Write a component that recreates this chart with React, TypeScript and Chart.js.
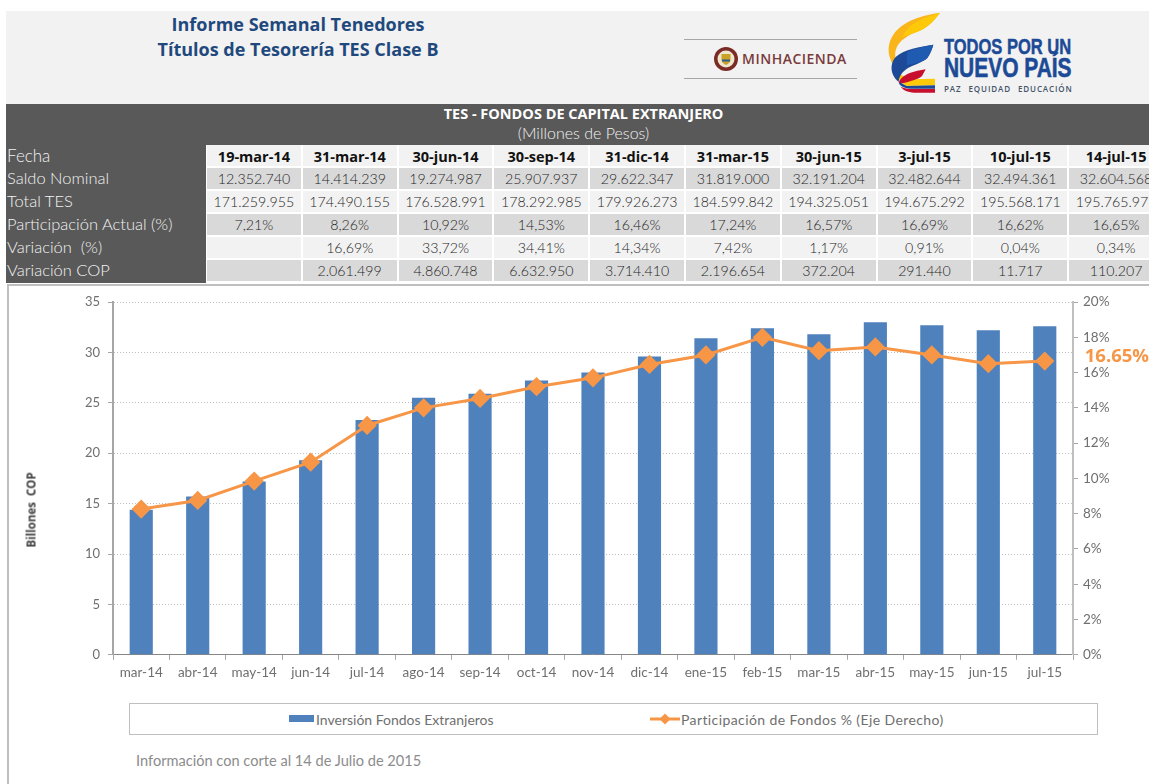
import React, { useEffect, useRef } from "react";
import { Chart, registerables } from "chart.js";

Chart.register(...registerables);

const months = ["mar-14","abr-14","may-14","jun-14","jul-14","ago-14","sep-14","oct-14","nov-14","dic-14","ene-15","feb-15","mar-15","abr-15","may-15","jun-15","jul-15"];
const inversion = [14.4,15.7,17.2,19.3,23.3,25.5,25.9,27.2,28.0,29.6,31.4,32.4,31.8,33.0,32.7,32.2,32.6];
const participacion = [8.26,8.75,9.85,10.92,13.0,14.0,14.53,15.2,15.7,16.46,17.0,18.0,17.24,17.45,17.0,16.5,16.65];
const serieBarras = "Inversión Fondos Extranjeros";
const serieLinea = "Participación de Fondos % (Eje Derecho)";

const fechas = ["19-mar-14","31-mar-14","30-jun-14","30-sep-14","31-dic-14","31-mar-15","30-jun-15","3-jul-15","10-jul-15","14-jul-15"];
const saldoNominal = ["12.352.740","14.414.239","19.274.987","25.907.937","29.622.347","31.819.000","32.191.204","32.482.644","32.494.361","32.604.568"];
const totalTes = ["171.259.955","174.490.155","176.528.991","178.292.985","179.926.273","184.599.842","194.325.051","194.675.292","195.568.171","195.765.971"];
const participacionActual = ["7,21%","8,26%","10,92%","14,53%","16,46%","17,24%","16,57%","16,69%","16,62%","16,65%"];
const variacionPct = ["","16,69%","33,72%","34,41%","14,34%","7,42%","1,17%","0,91%","0,04%","0,34%"];
const variacionCop = ["","2.061.499","4.860.748","6.632.950","3.714.410","2.196.654","372.204","291.440","11.717","110.207"];

const FONT = "Lato, 'Open Sans', sans-serif";
const HEAD = "'Open Sans', sans-serif";
const AXIS = "#6f6f6f";
const rows: [string, string[], string][] = [
  ["Saldo Nominal", saldoNominal, "#d9d9d9"],
  ["Total TES", totalTes, "#f2f2f2"],
  ["Participación Actual (%)", participacionActual, "#d9d9d9"],
  ["Variación  (%)", variacionPct, "#f2f2f2"],
  ["Variación COP", variacionCop, "#d9d9d9"],
];

function abs(l: number, t: number, w: number, h: number, extra: React.CSSProperties = {}): React.CSSProperties {
  return { position: "absolute", left: l, top: t, width: w, height: h, ...extra };
}
const COL0 = 207, COLW = 95.8, ROW0 = 145, ROWH = 23;
const NARROW = "'Liberation Sans', sans-serif";

const lastLabel = {
  id: "lastLabel",
  afterDatasetsDraw(chart: any) {
    const { ctx, scales } = chart;
    const v = participacion[participacion.length - 1];
    ctx.save();
    ctx.font = `bold 18.5px ${HEAD}`;
    ctx.fillStyle = "#f79646";
    ctx.textAlign = "right";
    ctx.textBaseline = "middle";
    ctx.fillText(v.toFixed(2) + "%", chart.width, scales.y1.getPixelForValue(v) - 4);
    ctx.restore();
  },
};

export default function App() {
  const ref = useRef<HTMLCanvasElement>(null);
  useEffect(() => {
    document.body.style.margin = "0";
    const chart = new Chart(ref.current!, {
      type: "bar",
      data: {
        labels: months,
        datasets: [
          { type: "line", label: serieLinea, data: participacion, yAxisID: "y1", borderColor: "#f79646", backgroundColor: "#f79646", borderWidth: 3, pointStyle: "rectRot", pointRadius: 7.5, pointHoverRadius: 7.5, tension: 0, order: 1 },
          { type: "bar", label: serieBarras, data: inversion, yAxisID: "y", backgroundColor: "#4f81bd", borderWidth: 0, barPercentage: 0.82, categoryPercentage: 0.5, order: 2 },
        ] as any,
      },
      options: {
        responsive: false,
        animation: false,
        layout: { padding: { left: 0, right: 0, top: 16, bottom: 10 } },
        plugins: { tooltip: { enabled: false }, legend: { display: false } },
        scales: {
          x: {
            offset: true,
            grid: { display: true, drawOnChartArea: false, drawTicks: true, tickLength: 5, color: "#a6a6a6", offset: true },
            border: { color: "#868686", width: 1 },
            ticks: { color: AXIS, font: { family: FONT, size: 13.5 }, maxRotation: 0, autoSkip: false, padding: 5 },
          },
          y: {
            position: "left", min: 0, max: 35,
            afterFit: (s: any) => { s.width = 105; },
            grid: { color: "#bdbdbd", lineWidth: 1, tickLength: 5, tickColor: "#a6a6a6" },
            border: { color: "#a6a6a6", width: 2, dash: [1, 2] },
            ticks: { stepSize: 5, color: AXIS, font: { family: FONT, size: 13 }, padding: 8 },
          } as any,
          y1: {
            position: "right", min: 0, max: 20,
            afterFit: (s: any) => { s.width = 76; },
            grid: { drawOnChartArea: false, tickLength: 5, color: "#a6a6a6" },
            border: { color: "#bfbfbf", width: 2 },
            ticks: { stepSize: 2, color: AXIS, font: { family: FONT, size: 13.5 }, padding: 5, callback: (v: any) => v + "%" },
          },
        },
      },
      plugins: [lastLabel],
    } as any);
    return () => chart.destroy();
  }, []);

  return (
    <div style={{ position: "relative", width: 1149, height: 784, overflow: "hidden", background: "#fff", fontFamily: FONT }}>
      {/* banner */}
      <div style={abs(6, 11, 1143, 93, { background: "#f2f2f2" })} />
      <div style={abs(6, 12, 584, 50, { textAlign: "center", color: "#1f497d", fontFamily: HEAD, fontWeight: 700, fontSize: 18, lineHeight: "25px", whiteSpace: "nowrap" })}>
        Informe Semanal Tenedores<br />Títulos de Tesorería TES Clase B
      </div>
      {/* Minhacienda */}
      <div style={abs(684, 39, 173, 1, { background: "#a6a6a6" })} />
      <div style={abs(684, 78, 173, 1, { background: "#a6a6a6" })} />
      <svg style={abs(713, 46, 26, 26)} viewBox="0 0 26 26">
        <circle cx="13" cy="13" r="12" fill="#7b2b26" />
        <circle cx="13" cy="13" r="8.5" fill="#efe6d0" />
        <path d="M8.5 8h9v5.5c0 3-2.5 4.5-4.5 5.5-2-1-4.5-2.5-4.5-5.5z" fill="#c9a227" />
        <path d="M9 13.5h8v2h-8z" fill="#2f5f8f" />
      </svg>
      <div style={abs(742, 46, 116, 26, { color: "#7a3b3b", fontFamily: HEAD, fontWeight: 600, fontSize: 14, lineHeight: "26px", letterSpacing: 0.5, whiteSpace: "nowrap" })}>MINHACIENDA</div>
      {/* Todos por un nuevo pais */}
      <svg style={abs(880, 8, 70, 92)} viewBox="0 0 210 276">
        <path d="M180 14C130 22 70 36 40 80 24 104 22 130 32 155 36 166 42 176 48 184 L60 196 L46 148 C42 118 60 94 100 76 140 62 158 44 180 14Z" fill="#f9b51a" />
        <path d="M180 14C150 24 110 36 88 56 80 64 72 76 66 88 L100 76C140 62 158 44 180 14Z" fill="#fdc908" />
        <path d="M48 184C58 200 76 212 100 214L165 212L165 232L80 234C62 226 50 208 44 190Z" fill="#fdc908" />
        <path d="M160 110C120 116 72 124 48 146 34 160 32 180 38 198 42 208 48 216 56 222 58 204 66 192 84 180 104 170 130 162 142 150 150 138 156 124 160 110Z" fill="#1c4a96" />
        <path d="M160 110C130 116 100 122 82 132 L80 172 C104 166 130 162 142 150 150 138 156 124 160 110Z" fill="#1f5bb0" />
        <path d="M137 184C115 188 92 192 76 202 66 208 58 216 56 224 66 228 78 224 90 220 108 214 120 210 126 204 130 198 134 190 137 184Z" fill="#c8102e" />
        <path d="M56 224C62 236 76 242 100 242L165 242L165 232L80 234 62 224Z" fill="#1c4a96" />
        <path d="M62 236C72 250 90 254 110 254L165 254L165 243L100 243C84 243 72 240 62 236Z" fill="#c8102e" />
      </svg>
      <div style={abs(944, 34, 165, 26, { color: "#1c4a96", fontFamily: NARROW, fontWeight: 700, fontSize: 22, lineHeight: "26px", whiteSpace: "nowrap", transform: "scaleX(0.75)", transformOrigin: "left center", WebkitTextStroke: "0.5px #1c4a96" })}>TODOS POR UN</div>
      <div style={abs(944, 53, 165, 30, { color: "#1c4a96", fontFamily: NARROW, fontWeight: 700, fontSize: 27, lineHeight: "30px", whiteSpace: "nowrap", transform: "scaleX(0.775)", transformOrigin: "left center", WebkitTextStroke: "0.6px #1c4a96" })}>NUEVO PAÍS</div>
      <div style={abs(944, 83, 130, 12, { color: "#44546a", fontFamily: HEAD, fontWeight: 600, fontSize: 8, lineHeight: "12px", whiteSpace: "nowrap", letterSpacing: 0.9, wordSpacing: 4 })}>PAZ EQUIDAD EDUCACIÓN</div>

      {/* table */}
      <div style={abs(6, 104, 200, 179, { background: "#595959" })} />
      <div style={abs(6, 104, 1155, 41, { background: "#595959", color: "#fff", textAlign: "center" })}>
        <div style={{ fontFamily: HEAD, fontWeight: 700, fontSize: 14.5, lineHeight: "20px" }}>TES - FONDOS DE CAPITAL EXTRANJERO</div>
        <div style={{ fontSize: 16, fontWeight: 300, lineHeight: "18px", color: "#f2f2f2" }}>(Millones de Pesos)</div>
      </div>
      <div style={abs(7, ROW0, 198, ROWH, { color: "#f2f2f2", fontSize: 17, fontWeight: 300, lineHeight: `${ROWH - 2}px` })}>Fecha</div>
      {rows.map(([label], i) => (
        <div key={label} style={abs(7, ROW0 + ROWH * (i + 1), 198, ROWH, { color: "#f2f2f2", fontSize: 16.5, fontWeight: 300, lineHeight: `${ROWH - 2}px`, whiteSpace: "pre" })}>{label}</div>
      ))}
      {fechas.map((f, c) => (
        <div key={f} style={abs(COL0 + COLW * c, ROW0, COLW - 2, ROWH - 2, { background: "#f2f2f2", color: "#111", fontFamily: HEAD, fontWeight: 700, fontSize: 14.5, lineHeight: "24px", textAlign: "center", whiteSpace: "nowrap" })}>{f}</div>
      ))}
      {rows.map(([label, vals, bg], i) =>
        vals.map((v, c) => (
          <div key={label + c} style={abs(COL0 + COLW * c, ROW0 + ROWH * (i + 1), COLW - 2, ROWH - 2, { background: bg, color: "#1f1f1f", fontSize: 14.2, fontWeight: 300, lineHeight: "21px", textAlign: "center", whiteSpace: "nowrap", overflow: "visible" })}>{v}</div>
        ))
      )}

      {/* chart frame */}
      <div style={abs(7, 284, 1150, 510, { border: "2px solid #bfbfbf", boxSizing: "border-box" })} />
      <canvas ref={ref} width={1141} height={410} style={{ position: "absolute", left: 8, top: 286, width: 1141, height: 410 }} />
      <div style={{ position: "absolute", left: 31, top: 510, transform: "translate(-50%,-50%) rotate(-90deg)", fontFamily: HEAD, fontWeight: 700, fontSize: 11.5, color: "#404040", whiteSpace: "pre" }}>Billones  COP</div>

      {/* legend */}
      <div style={abs(129, 703, 969, 32, { border: "1px solid #bfbfbf", boxSizing: "border-box" })} />
      <div style={abs(289, 715, 25, 7, { background: "#4f81bd" })} />
      <div style={{ position: "absolute", left: 316, top: 711, fontSize: 14, lineHeight: "17px", color: AXIS, whiteSpace: "nowrap" }}>{serieBarras}</div>
      <svg style={abs(650, 712, 30, 14)} viewBox="0 0 30 14">
        <path d="M0 7H30" stroke="#f79646" strokeWidth="3" />
        <path d="M15 1.5L20.5 7 15 12.5 9.5 7Z" fill="#f79646" />
      </svg>
      <div style={{ position: "absolute", left: 681, top: 711, fontSize: 14, letterSpacing: 0.4, lineHeight: "17px", color: AXIS, whiteSpace: "nowrap" }}>{serieLinea}</div>
      <div style={{ position: "absolute", left: 136, top: 752, fontSize: 14.6, lineHeight: "17px", color: "#8c8c8c", whiteSpace: "nowrap" }}>Información con corte al 14 de Julio de 2015</div>
    </div>
  );
}
